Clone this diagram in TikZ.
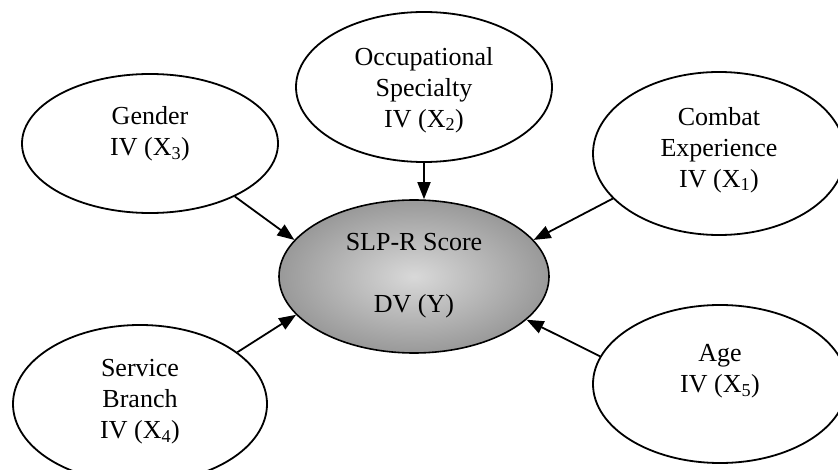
\documentclass[tikz,border=0pt]{standalone}
\usepackage{fontspec}
\setmainfont{Liberation Serif}
\usetikzlibrary{arrows.meta,shapes.geometric}
\begin{document}
\begin{tikzpicture}[x=1pt,y=-1pt,
  iv/.style={ellipse,draw=black,line width=1.8pt,inner sep=0pt,fill=white},
  lbl/.style={align=center,font=\fontsize{26}{31}\selectfont,inner sep=0pt},
  dv/.style={ellipse,draw=black,line width=1.6pt,inner sep=0pt,inner color=gray!30,outer color=gray!80},
  link/.style={line width=1.8pt,-{Triangle[length=17pt,width=13pt]}}]
\useasboundingbox (0,0) rectangle (838,470);
\clip (0,0) rectangle (838,470);
% ellipses
\node[iv,minimum width=256pt,minimum height=150pt] (occ) at (424,87) {};
\node[iv,minimum width=256pt,minimum height=139pt] (gender) at (150,143.5) {};
\node[iv,minimum width=252pt,minimum height=163pt] (combat) at (719,153.5) {};
\node[dv,minimum width=270pt,minimum height=153pt] (slp) at (414,276.5) {};
\node[iv,minimum width=254pt,minimum height=158pt] (service) at (140,404) {};
\node[iv,minimum width=254pt,minimum height=158pt] (age) at (720,384) {};
% texts
\node[lbl] (occtxt) at (424,90) {Occupational\\Specialty\\IV (X\textsubscript{2})};
\node[lbl] (gendertxt) at (150,134) {Gender\\IV (X\textsubscript{3})};
\node[lbl] (combattxt) at (719,150) {Combat\\Experience\\IV (X\textsubscript{1})};
\node[lbl] (slptxt) at (414,276) {SLP-R Score\\[31pt]DV (Y)};
\node[lbl] (servicetxt) at (140,402) {Service\\Branch\\IV (X\textsubscript{4})};
\node[lbl] (agetxt) at (720,371) {Age\\IV (X\textsubscript{5})};
% connectors
\draw[link] (occ.south) -- (slp.north -| occ.south);
\draw[link] (gender.-32.8) -- (slp.163.2);
\draw[link] (combat.203.7) -- (slp.17.1);
\draw[link] (service.28.2) -- (slp.198.1);
\draw[link] (age.167.1) -- (slp.-21.9);
\end{tikzpicture}
\end{document}
